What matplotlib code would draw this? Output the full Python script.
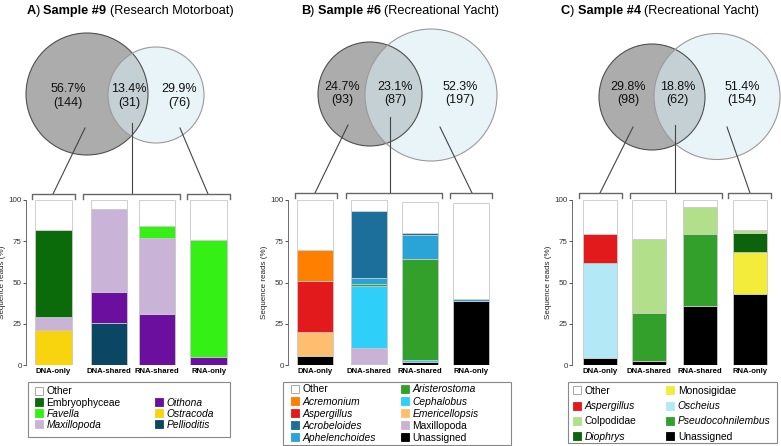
import numpy as np
import matplotlib
matplotlib.use("Agg")
import matplotlib.pyplot as plt
from matplotlib.patches import Circle, Patch, Rectangle

matplotlib.rcParams['font.family'] = ['Liberation Sans', 'DejaVu Sans']

W, H = 781, 446
groups = ['DNA-only', 'DNA-shared', 'RNA-shared', 'RNA-only']

# ---- panel A : sample 9 ----
a_title = ['A', 'Sample #9', '(Research Motorboat)']
a_venn_pct = [56.7, 13.4, 29.9]
a_venn_n = [144, 31, 76]
a_taxa = ['Other', 'Embryophyceae', 'Favella', 'Maxillopoda', 'Oithona', 'Ostracoda', 'Pellioditis']
a_reads = [[18.0, 5.6, 16.0, 24.2],
           [53.0, 0, 0, 0],
           [0, 0, 7.0, 71.0],
           [8.0, 50.2, 46.0, 0],
           [0, 18.7, 31.0, 4.8],
           [21.0, 0, 0, 0],
           [0, 25.5, 0, 0]]

# ---- panel B : sample 6 ----
b_title = ['B', 'Sample #6', '(Recreational Yacht)']
b_venn_pct = [24.7, 23.1, 52.3]
b_venn_n = [93, 87, 197]
b_taxa = ['Other', 'Acremonium', 'Aspergillus', 'Acrobeloides', 'Aphelenchoides',
          'Aristerostoma', 'Cephalobus', 'Emericellopsis', 'Maxillopoda', 'Unassigned']
b_reads = [[30.3, 6.7, 18.5, 58.0],
           [18.6, 0, 0, 0],
           [31.1, 0, 0, 0],
           [0, 40.6, 1.0, 0],
           [0, 3.6, 15.0, 1.0],
           [0, 1.2, 61.0, 0],
           [0, 37.4, 1.0, 0],
           [14.4, 0, 0, 0],
           [0, 10.0, 0, 0],
           [5.6, 0.5, 2.0, 39.0]]

# ---- panel C : sample 4 ----
c_title = ['C', 'Sample #4', '(Recreational Yacht)']
c_venn_pct = [29.8, 18.8, 51.4]
c_venn_n = [98, 62, 154]
c_taxa = ['Other', 'Aspergillus', 'Colpodidae', 'Diophrys', 'Monosigidae',
          'Oscheius', 'Pseudocohnilembus', 'Unassigned']
c_reads = [[20.6, 23.5, 4.5, 18.0],
           [17.4, 0, 0, 0],
           [0, 45.0, 16.0, 2.0],
           [0, 0, 0, 11.5],
           [0, 0, 0, 25.5],
           [58.0, 0, 0, 0],
           [0, 29.0, 44.0, 0],
           [4.0, 2.5, 35.5, 43.0]]

# colours / styles
a_colors = ['#ffffff', '#0b6b0b', '#35f014', '#c9b3d6', '#6a0f9e', '#f7d40e', '#0b4663']
a_italic = [False, False, True, True, True, True, True]
b_colors = ['#ffffff', '#ff7f00', '#e31a1c', '#1b6f9a', '#2aa3d6', '#33a02c',
            '#2ed0fa', '#fdbf6f', '#cab2d6', '#000000']
b_italic = [False, True, True, True, True, True, True, True, False, False]
c_colors = ['#ffffff', '#e31a1c', '#b2df8a', '#0b640b', '#f3ec3a', '#b3e9f6', '#33a02c', '#000000']
c_italic = [False, True, False, True, False, True, True, False]

# layout in pixels
layouts = [
    dict(title_x=130, spine=26, right=232, centers=[53.3, 108.8, 157, 208.7], bw=36.6,
         circles=[(87, 94, 61), (156, 95, 48)], lab_x=[68, 129, 179], lab_y=96,
         links=[((85, 128), (53, 194)), ((132, 123), (132, 194)), ((180, 128), (208, 194))],
         brackets=[(32, 75), (83, 180), (187, 230)], br_y=194,
         box=(28, 382, 230, 437), anchor=(35, 386.5), colsp=3.3, labsp=0.11, blank=True),
    dict(title_x=400, spine=288, right=495, centers=[315.3, 368.7, 419.7, 471.3], bw=36,
         circles=[(370, 94, 52), (431, 95, 66)], lab_x=[342, 395, 460], lab_y=93.5,
         links=[((348, 125), (315, 193)), ((390, 117), (390, 193)), ((440, 127), (472, 193))],
         brackets=[(295, 337), (346, 442), (450, 492)], br_y=193,
         box=(283, 382, 511, 445), anchor=(291, 384.5), colsp=2.4, labsp=0.2, blank=False),
    dict(title_x=660, spine=572, right=775, centers=[600.3, 649.2, 699.7, 749.7], bw=34,
         circles=[(652, 97, 53), (717, 96.5, 63)], lab_x=[628.5, 677.5, 742], lab_y=93.5,
         links=[((633, 127), (600, 193)), ((675, 125), (675, 193)), ((727, 127), (750, 193))],
         brackets=[(579, 622), (630, 722), (728, 771)], br_y=193,
         box=(568, 382, 777, 443), anchor=(573, 386), colsp=2.9, labsp=0.51, blank=False),
]

fig = plt.figure(figsize=(W / 100, H / 100), dpi=100)
ov = fig.add_axes([0, 0, 1, 1])
ov.set_xlim(0, W)
ov.set_ylim(H, 0)
ov.axis('off')
renderer = fig.canvas.get_renderer()


def title(xc, y, parts):
    weights = ['bold', 'normal', 'bold', 'normal']
    pieces = [parts[0], ')', parts[1], parts[2]]
    txts = [ov.text(0, y, p, fontsize=9.2, fontweight=w, va='center', ha='left')
            for p, w in zip(pieces, weights)]
    widths = [t.get_window_extent(renderer).width for t in txts]
    gaps = [0, 0, 3.5, 3.5]
    total = sum(widths) + sum(gaps)
    x = xc - total / 2
    for t, w, g in zip(txts, widths, gaps):
        x += g
        t.set_x(x)
        x += w


def panel(lay, ttl, vpct, vn, taxa, reads, colors, italic):
    title(lay['title_x'], 10.7, ttl)

    # venn
    (x1, y1, r1), (x2, y2, r2) = lay['circles']
    ov.add_patch(Circle((x1, y1), r1, facecolor='#acacac', edgecolor='none'))
    ov.add_patch(Circle((x2, y2), r2, facecolor='#d7ecf3', alpha=0.57, edgecolor='none'))
    ov.add_patch(Circle((x1, y1), r1, facecolor='none', edgecolor='#505050', lw=0.8))
    ov.add_patch(Circle((x2, y2), r2, facecolor='none', edgecolor='#9a9a9a', lw=0.8))
    for x, p, n in zip(lay['lab_x'], vpct, vn):
        ov.text(x, lay['lab_y'], f"{p}%\n({n})", ha='center', va='center',
                fontsize=9, linespacing=1.15, color='#111111')
    for (p0, p1) in lay['links']:
        ov.plot([p0[0], p1[0]], [p0[1], p1[1]], color='#444444', lw=0.8)
    yb = lay['br_y']
    for xa, xb in lay['brackets']:
        ov.plot([xa, xa, xb, xb], [yb + 5, yb, yb, yb + 5], color='#666666', lw=1)

    # stacked bars
    x0, x1b = lay['spine'], lay['right']
    ax = fig.add_axes([x0 / W, (H - 365) / H, (x1b - x0) / W, 165 / H])
    ax.patch.set_alpha(0)
    ax.set_xlim(x0, x1b)
    ax.set_ylim(0, 100)
    bottom = np.zeros(len(groups))
    for i in range(len(taxa) - 1, -1, -1):
        h = np.array(reads[i], dtype=float)
        m = h > 0
        ax.bar(np.array(lay['centers'])[m], h[m], lay['bw'], bottom=bottom[m],
               color=colors[i], edgecolor='#c8c8c8', lw=0.6)
        bottom += h
    for s in ['top', 'right', 'bottom']:
        ax.spines[s].set_visible(False)
    ax.spines['left'].set_bounds(0, 100)
    ax.spines['left'].set_linewidth(0.6)
    ax.spines['left'].set_color('#555555')
    ax.set_yticks([0, 25, 50, 75, 100])
    ax.tick_params(axis='y', length=2, width=0.6, pad=1, labelsize=5.8, colors='#333333')
    ax.set_xticks(lay['centers'], groups, fontweight='bold', fontsize=5.6)
    ax.tick_params(axis='x', length=0, pad=2.5)
    ax.set_ylabel('Sequence reads (%)', fontsize=5.8, labelpad=1.5, color='#222222')

    # legend (frame drawn separately so it can be wider than the entries)
    bx0, by0, bx1, by1 = lay['box']
    ov.add_patch(Rectangle((bx0, by0), bx1 - bx0, by1 - by0, facecolor='none',
                           edgecolor='#888888', lw=0.8))
    handles = []
    labels = []
    for t, c in zip(taxa, colors):
        ec = '#999999' if t == 'Other' else c
        handles.append(Patch(facecolor=c, edgecolor=ec, lw=0.6))
        labels.append(t)
    it = list(italic)
    if lay['blank']:
        handles.insert(4, Patch(visible=False))
        labels.insert(4, '')
        it.insert(4, False)
    lx, ly = lay['anchor']
    leg = fig.legend(handles, labels, ncol=2, loc='upper left',
                     bbox_to_anchor=(lx / W, 1 - ly / H),
                     bbox_transform=fig.transFigure, frameon=False,
                     fontsize=7.4, handlelength=0.8, handleheight=0.8, handletextpad=0.33,
                     labelspacing=lay['labsp'], borderpad=0, borderaxespad=0,
                     columnspacing=lay['colsp'])
    for txt, i in zip(leg.get_texts(), it):
        if i:
            txt.set_fontstyle('italic')


panel(layouts[0], a_title, a_venn_pct, a_venn_n, a_taxa, a_reads, a_colors, a_italic)
panel(layouts[1], b_title, b_venn_pct, b_venn_n, b_taxa, b_reads, b_colors, b_italic)
panel(layouts[2], c_title, c_venn_pct, c_venn_n, c_taxa, c_reads, c_colors, c_italic)

fig.savefig('out.png', dpi=100)
